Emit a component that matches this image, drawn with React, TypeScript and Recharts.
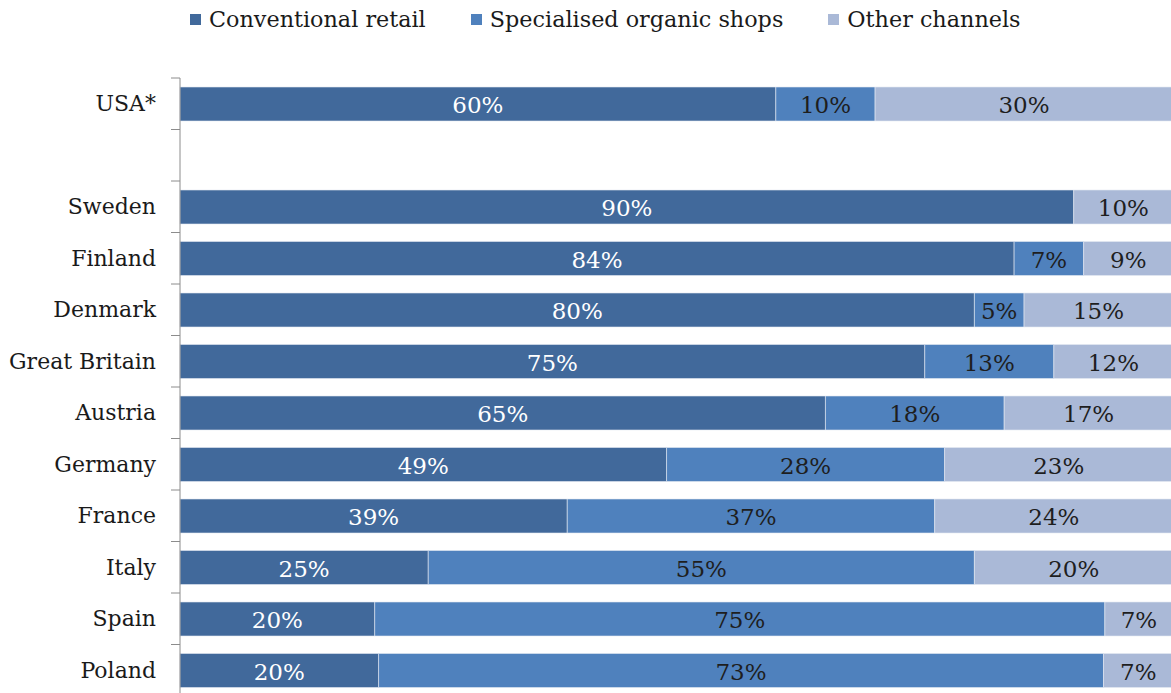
import React from 'react'
import { BarChart, Bar, XAxis, YAxis, LabelList } from 'recharts'

const categories = ['USA*', '', 'Sweden', 'Finland', 'Denmark', 'Great Britain', 'Austria', 'Germany', 'France', 'Italy', 'Spain', 'Poland']
const conventional = [60, null, 90, 84, 80, 75, 65, 49, 39, 25, 20, 20]
const specialised = [10, null, null, 7, 5, 13, 18, 28, 37, 55, 75, 73]
const other = [30, null, 10, 9, 15, 12, 17, 23, 24, 20, 7, 7]

const seriesNames = ['Conventional retail', 'Specialised organic shops', 'Other channels']
const seriesKeys = ['conv', 'spec', 'other']
const seriesColors = ['#41699B', '#4F81BD', '#AAB9D7']
const labelColors = ['#FFFFFF', '#1E1E1E', '#1E1E1E']

const data = categories.map((name, i) => ({
  name,
  conv: conventional[i],
  spec: specialised[i],
  other: other[i],
}))

const FONT = '"DejaVu Serif", serif'
const CHART_W = 1180
const CHART_H = 700
const MARGIN = { top: 78, right: 7, left: 0, bottom: 4 }
const BAND = (CHART_H - MARGIN.top - MARGIN.bottom) / categories.length

// category label plus the little boundary ticks left of the axis
const CategoryTick = (props: any) => {
  const { x, y, payload, index } = props
  const ax = x + 24
  return (
    <g>
      <line x1={ax - 9} x2={ax} y1={y - BAND / 2} y2={y - BAND / 2} stroke="#8C8C8C" strokeWidth={1} />
      {index === categories.length - 1 && (
        <line x1={ax - 9} x2={ax} y1={y + BAND / 2} y2={y + BAND / 2} stroke="#8C8C8C" strokeWidth={1} />
      )}
      <text x={x} y={y} textAnchor="end" dominantBaseline="central" fill="#1A1A1A" fontSize={22} fontFamily={FONT}>
        {payload.value}
      </text>
    </g>
  )
}

const makeLabel = (color: string) => (props: any) => {
  const { x, y, width, height, value } = props
  if (value == null || value === 0) return null
  return (
    <text
      x={x + width / 2}
      y={y + height / 2 + 1}
      textAnchor="middle"
      dominantBaseline="central"
      fill={color}
      fontSize={23}
      fontFamily={FONT}
    >
      {value}%
    </text>
  )
}

export default function App() {
  return (
    <div style={{ position: 'absolute', left: 0, top: 0, width: 1171, height: 693, overflow: 'hidden', background: '#fff' }}>
      <div style={{ position: 'absolute', left: 190, top: 6, display: 'flex', alignItems: 'center', fontFamily: FONT, fontSize: 22.3, color: '#1A1A1A', whiteSpace: 'nowrap' }}>
        {seriesNames.map((n, i) => (
          <div key={n} style={{ display: 'flex', alignItems: 'center', marginRight: 45 }}>
            <span style={{ display: 'inline-block', width: 11, height: 11, background: seriesColors[i], marginRight: 8 }} />
            <span>{n}</span>
          </div>
        ))}
      </div>
      <BarChart
        width={CHART_W}
        height={CHART_H}
        data={data}
        layout="vertical"
        stackOffset="expand"
        margin={MARGIN}
        style={{ position: 'absolute', left: 0, top: 0 }}
      >
        <XAxis type="number" hide domain={[0, 1]} />
        <YAxis
          type="category"
          dataKey="name"
          width={180}
          axisLine={{ stroke: '#8C8C8C', strokeWidth: 1 }}
          tickLine={false}
          tickSize={0}
          tickMargin={24}
          interval={0}
          tick={<CategoryTick />}
        />
        {seriesKeys.map((k, i) => (
          <Bar
            key={k}
            dataKey={k}
            name={seriesNames[i]}
            stackId="a"
            fill={seriesColors[i]}
            stroke="#E4EAF2"
            strokeWidth={0.6}
            barSize={34}
            isAnimationActive={false}
          >
            <LabelList dataKey={k} content={makeLabel(labelColors[i])} />
          </Bar>
        ))}
      </BarChart>
    </div>
  )
}
